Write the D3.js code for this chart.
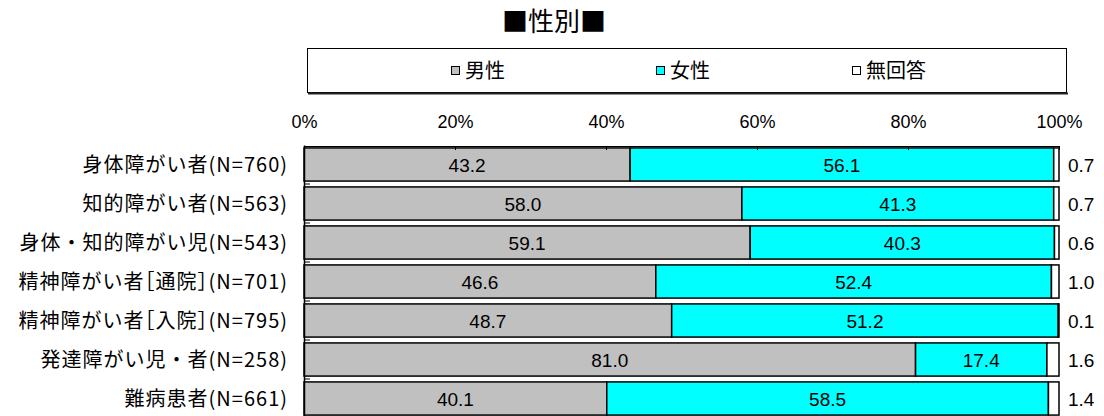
<!DOCTYPE html>
<html><head><meta charset="utf-8">
<script src="https://cdn.jsdelivr.net/npm/d3@7/dist/d3.min.js"></script>
<style>
html,body{margin:0;padding:0;background:#fff;}
text{font-family:"Liberation Sans","Noto Sans CJK JP",sans-serif;fill:#000;}
</style></head>
<body>
<svg id="chart" width="1104" height="416"></svg>
<script>
const title = "■性別■";
const categories = ["身体障がい者(N=760)","知的障がい者(N=563)","身体・知的障がい児(N=543)","精神障がい者［通院］(N=701)","精神障がい者［入院］(N=795)","発達障がい児・者(N=258)","難病患者(N=661)"];
const seriesNames = ["男性","女性","無回答"];
const male =   [43.2,58.0,59.1,46.6,48.7,81.0,40.1];
const female = [56.1,41.3,40.3,52.4,51.2,17.4,58.5];
const noAnswer=[0.7,0.7,0.6,1.0,0.1,1.6,1.4];
const colors = ["#C0C0C0","#00FFFF","#FFFFFF"];
const xTicks = [0,20,40,60,80,100];

const svg = d3.select("#chart");
const x = d3.scaleLinear().domain([0,100]).range([304,1059]);
const y = d3.scaleBand().domain(categories).range([145,418]).paddingInner(0.15).paddingOuter(0.075);

// title
svg.append("text").attr("x",554).attr("y",31).attr("text-anchor","middle")
  .style("font-family","'Noto Sans CJK JP'").style("font-size","26px").style("font-weight","400").text(title);

// legend
const lg = svg.append("g");
lg.append("rect").attr("x",307.5).attr("y",48.5).attr("width",759).attr("height",44).attr("fill","#fff").attr("stroke","#000").attr("stroke-width",1);
lg.append("line").attr("x1",308).attr("x2",1068).attr("y1",93.5).attr("y2",93.5).attr("stroke","#222").attr("stroke-width",2);
const legX = [451,656,852];
seriesNames.forEach((n,i)=>{
  lg.append("rect").attr("x",legX[i]+0.5).attr("y",66.5).attr("width",8).attr("height",8).attr("fill",colors[i]).attr("stroke","#000");
  lg.append("text").attr("x",legX[i]+14).attr("y",77.5).style("font-family","'Noto Sans CJK JP'").style("font-size","20px").text(n);
});

// stacked data
const rows = categories.map((c,i)=>({cat:c, vals:[male[i],female[i],noAnswer[i]]}));
const bars = svg.append("g");
rows.forEach(r=>{
  let acc=0;
  r.vals.forEach((v,j)=>{
    bars.append("rect").attr("x",x(acc)).attr("y",y(r.cat)).attr("width",x(acc+v)-x(acc)).attr("height",y.bandwidth())
      .attr("fill",colors[j]).attr("stroke","#000").attr("stroke-width",1.5);
    if(j<2){
      bars.append("text").attr("x",(x(acc)+x(acc+v))/2).attr("y",y(r.cat)+y.bandwidth()/2+7)
        .attr("text-anchor","middle").style("font-size","19px").text(v.toFixed(1));
    } else {
      bars.append("text").attr("x",x(100)+9).attr("y",y(r.cat)+y.bandwidth()/2+7)
        .style("font-size","19px").text(v.toFixed(1));
    }
    acc+=v;
  });
});

// top axis
const xAxis = d3.axisTop(x).tickValues(xTicks).tickFormat(d=>d+"%").tickSizeInner(-4).tickSizeOuter(0).tickPadding(18);
const gx = svg.append("g").attr("transform","translate(0,146)").call(xAxis);
gx.select(".domain").attr("stroke","#000");
gx.selectAll("text").style("font-size","18px").attr("fill","#000");

// left axis
const yAxis = d3.axisLeft(y).tickSize(0).tickPadding(16);
const gy = svg.append("g").attr("transform","translate(304,0)").call(yAxis);
gy.select(".domain").attr("stroke","#000").attr("stroke-width",1.5);
gy.selectAll("text").style("font-size","20px").style("letter-spacing","1px").style("font-family","'Noto Sans CJK JP'").attr("fill","#000").attr("dy","0.36em")
  .each(function(d){
    const t = d3.select(this); t.text(null);
    d.split(/([［］])/).forEach(part=>{
      if(!part) return;
      const ts = t.append("tspan").text(part);
      if(/[［］]/.test(part)) ts.style("font-feature-settings","'halt'");
    });
  });
// boundary ticks
const bounds = categories.slice(1).map(c=>y(c)-y.step()*y.paddingInner()/2);
svg.append("g").selectAll("line").data(bounds).join("line")
  .attr("x1",304).attr("x2",310).attr("y1",d=>d).attr("y2",d=>d).attr("stroke","#000");
</script>
</body></html>
